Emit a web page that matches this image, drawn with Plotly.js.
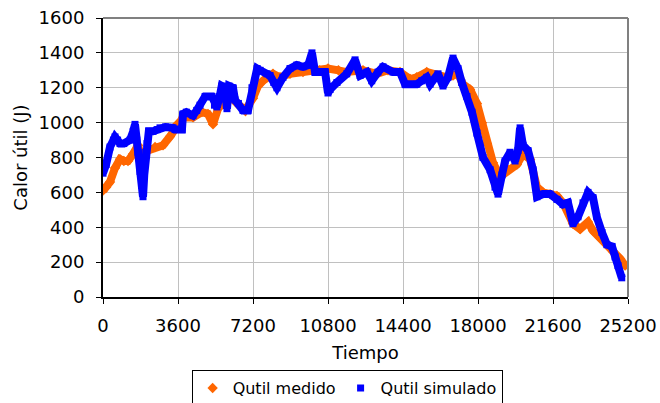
<!DOCTYPE html>
<html><head><meta charset="utf-8">
<script src="https://cdn.plot.ly/plotly-3.0.1.min.js"></script>
<style>html,body{margin:0;padding:0;background:#fff}#c{width:660px;height:403px}</style>
</head><body><div id="c"></div>
<script>
const tMedido = [0,150,336,576,816,1000,1200,1440,1680,1800,1920,2160,2500,2880,3216,3550,3840,4320,4750,5040,5280,5520,5800,6100,6430,6816,7200,7440,7680,8160,8500,8976,9600,10400,10800,11300,11700,12480,13150,13680,14256,14736,15060,15540,16030,16510,16800,17040,17280,17620,17950,18190,18430,18720,19060,19440,19870,20160,20500,20830,21120,21460,21790,22080,22560,22900,23280,23520,23860,24190,24480,24820,25060];
const qMedido = [610,630,660,740,790,780,780,820,870,820,800,840,860,870,920,990,1030,1030,1060,1050,990,1080,1130,1150,1110,1070,1140,1210,1240,1280,1260,1280,1290,1300,1310,1300,1290,1300,1280,1300,1290,1250,1260,1290,1270,1260,1270,1280,1220,1190,1110,1000,880,770,690,730,760,820,790,630,600,590,580,540,420,390,430,380,340,300,260,220,180];

const tSimulado = [0,150,336,500,576,700,816,1000,1296,1450,1536,1620,1680,1780,1850,1920,1980,2050,2112,2200,2400,2600,2736,3000,3360,3456,3790,3840,4000,4320,4500,4656,4900,5230,5350,5470,5600,5700,5850,5950,6050,6240,6336,6500,6720,6960,7150,7400,7540,7870,8016,8200,8350,8640,8976,9300,9600,9850,10030,10180,10400,10660,10800,10900,11230,11700,12100,12340,12670,12900,13200,13440,13920,14256,14500,15060,15300,15540,15700,16080,16320,16560,16800,17040,17220,17470,17710,17950,18240,18580,18816,18960,19150,19300,19540,19780,19920,20020,20160,20400,20640,20830,21120,21460,21790,22080,22320,22560,22800,23040,23280,23520,23700,23950,24190,24430,24580,24720,24900];
const qSimulado = [710,760,860,900,918,900,880,880,900,950,990,900,830,720,640,575,700,830,880,950,950,960,970,975,970,960,960,1050,1060,1040,1070,1100,1150,1150,1100,1090,1150,1210,1200,1080,1210,1200,1130,1110,1070,1070,1200,1310,1300,1280,1270,1230,1200,1260,1310,1330,1320,1330,1400,1290,1290,1290,1170,1190,1230,1280,1360,1270,1290,1240,1290,1320,1290,1290,1220,1220,1240,1260,1220,1280,1210,1260,1370,1310,1230,1150,1060,940,800,730,630,590,700,780,830,780,840,970,870,840,730,575,590,590,560,530,540,420,460,540,600,570,460,370,300,290,230,180,110];

const xTicks = [0,3600,7200,10800,14400,18000,21600,25200];
const yTicks = [0,200,400,600,800,1000,1200,1400,1600];

const font = 'DejaVu Sans, Verdana, sans-serif';
const orange = '#ff6600', blue = '#0000ff';

const traces = [
  {x:tMedido, y:qMedido, name:'Qutil medido', mode:'lines', type:'scatter', showlegend:false,
   line:{color:orange, width:8}},
  {x:tMedido, y:qMedido, name:'Qutil medido', mode:'markers', type:'scatter',
   marker:{color:orange, symbol:'diamond', size:8}},
  {x:tSimulado, y:qSimulado, name:'Qutil simulado', mode:'lines', type:'scatter', showlegend:false,
   line:{color:blue, width:8}},
  {x:tSimulado, y:qSimulado, name:'Qutil simulado', mode:'markers', type:'scatter',
   marker:{color:blue, symbol:'square', size:7}}
];

const layout = {
  width:660, height:403,
  margin:{l:103, r:32, t:18, b:106, autoexpand:false},
  paper_bgcolor:'#fff', plot_bgcolor:'#fff',
  font:{family:font, size:18, color:'#000'},
  showlegend:true,
  legend:{orientation:'h', x:0.465, xanchor:'center', y:-0.262, yanchor:'top',
    bordercolor:'#000', borderwidth:1, font:{family:font, size:16},
    itemsizing:'trace', itemwidth:30, tracegroupgap:0},
  xaxis:{range:[0,25200], tickvals:xTicks, ticktext:xTicks.map(String), showgrid:true,
    gridcolor:'#c0c0c0', gridwidth:1, zeroline:false, showline:true, linecolor:'#000', linewidth:2,
    ticks:'outside', ticklen:5, tickcolor:'#000', tickfont:{family:font, size:18}, ticklabelstandoff:6,
    title:{text:'Tiempo', font:{family:font, size:18}, standoff:12}},
  yaxis:{range:[0,1600], tickvals:yTicks, showgrid:true,
    gridcolor:'#c0c0c0', gridwidth:1, zeroline:false, showline:true, linecolor:'#000', linewidth:2,
    ticks:'outside', ticklen:5, tickcolor:'#000', tickfont:{family:font, size:18}, ticklabelstandoff:8,
    title:{text:'Calor útil (J)', font:{family:font, size:18}, standoff:6}},
  shapes:[
    {type:'line', xref:'paper', yref:'paper', x0:0, x1:1, y0:1, y1:1, line:{color:'#808080', width:2}},
    {type:'line', xref:'paper', yref:'paper', x0:1, x1:1, y0:0, y1:1, line:{color:'#808080', width:2}}
  ]
};

Plotly.newPlot('c', traces, layout, {displayModeBar:false, staticPlot:true});
</script>
</body></html>
